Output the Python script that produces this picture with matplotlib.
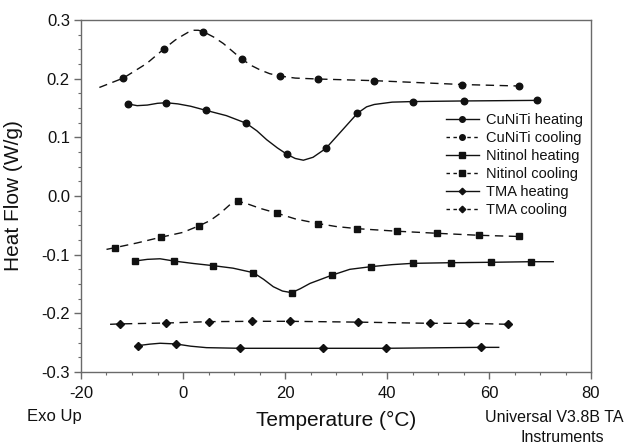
import numpy as np
import matplotlib
matplotlib.use("Agg")
import matplotlib.pyplot as plt
from matplotlib.legend_handler import HandlerLine2D
from matplotlib.lines import Line2D

plt.rcParams['font.family'] = ['Liberation Sans', 'DejaVu Sans']
plt.rcParams['axes.unicode_minus'] = False

# ---------------- data ----------------
# CuNiTi heating
cuniti_heat_trace_T = [-10.8, -9.0, -7.0, -5.0, -3.3, -1.0, 1.5, 4.5, 8.5, 12.4, 14.5, 16.4, 18.5, 20.4,
                       22.0, 23.6, 25.5, 28.0, 31.0, 34.2, 36.0, 37.5, 41.0, 45.1, 55.0, 69.5]
cuniti_heat_trace_H = [0.157, 0.154, 0.155, 0.158, 0.159, 0.157, 0.153, 0.146, 0.137, 0.124, 0.111,
                       0.096, 0.082, 0.071, 0.064, 0.061, 0.066, 0.081, 0.110, 0.141, 0.152, 0.156,
                       0.160, 0.161, 0.162, 0.163]
cuniti_heat_T = [-10.8, -3.3, 4.5, 12.4, 20.4, 28.0, 34.2, 45.1, 55.0, 69.5]
cuniti_heat_H = [0.157, 0.159, 0.146, 0.124, 0.071, 0.081, 0.141, 0.161, 0.162, 0.163]

# CuNiTi cooling
cuniti_cool_trace_T = [-16.4, -11.7, -7.1, -3.7, -1.5, 0.0, 1.0, 2.0, 3.0, 4.0, 6.0, 7.9, 11.5, 13.5,
                       15.1, 17.0, 19.0, 22.0, 26.5, 37.5, 54.8, 65.8]
cuniti_cool_trace_H = [0.185, 0.201, 0.226, 0.251, 0.266, 0.274, 0.279, 0.2825, 0.2825, 0.280, 0.271,
                       0.260, 0.2335, 0.222, 0.215, 0.2085, 0.2045, 0.201, 0.1994, 0.1966, 0.190, 0.1875]
cuniti_cool_T = [-11.7, -3.7, 4.0, 11.5, 19.0, 26.5, 37.5, 54.8, 65.8]
cuniti_cool_H = [0.201, 0.251, 0.280, 0.2335, 0.2045, 0.1994, 0.1966, 0.190, 0.1875]

# Nitinol heating
nitinol_heat_trace_T = [-9.4, -7.0, -4.5, -1.8, 2.0, 5.9, 9.8, 13.8, 15.8, 17.7, 19.5, 21.3, 23.0,
                        24.9, 29.2, 32.7, 36.9, 41.0, 45.0, 52.5, 60.3, 68.2, 72.6]
nitinol_heat_trace_H = [-0.1108, -0.1080, -0.107, -0.1108, -0.115, -0.1187, -0.123, -0.1307, -0.142,
                        -0.1546, -0.162, -0.1648, -0.158, -0.149, -0.135, -0.125, -0.1204, -0.117,
                        -0.1148, -0.1137, -0.113, -0.112, -0.112]
nitinol_heat_T = [-9.4, -1.8, 5.9, 13.8, 21.3, 29.2, 36.9, 45.0, 52.5, 60.3, 68.2]
nitinol_heat_H = [-0.1108, -0.1108, -0.1187, -0.1307, -0.1648, -0.135, -0.1204, -0.1148, -0.1137,
                  -0.113, -0.112]

# Nitinol cooling
nitinol_cool_trace_T = [-15.0, -13.3, -9.0, -4.4, 0.0, 3.2, 5.3, 7.3, 9.3, 10.8, 12.5, 15.1, 18.5,
                        22.0, 26.5, 30.0, 34.2, 41.9, 49.9, 58.1, 65.9]
nitinol_cool_trace_H = [-0.091, -0.088, -0.080, -0.0704, -0.062, -0.0506, -0.042, -0.0295, -0.014,
                        -0.009, -0.013, -0.021, -0.0295, -0.039, -0.047, -0.052, -0.0557, -0.060,
                        -0.0636, -0.067, -0.069]
nitinol_cool_T = [-13.3, -4.4, 3.2, 10.8, 18.5, 26.5, 34.2, 41.9, 49.9, 58.1, 65.9]
nitinol_cool_H = [-0.088, -0.0704, -0.0506, -0.009, -0.0295, -0.047, -0.0557, -0.060, -0.0636,
                  -0.067, -0.069]

# TMA heating
tma_heat_trace_T = [-8.8, -6.5, -4.5, -1.4, 1.5, 4.6, 11.2, 27.4, 39.8, 58.4, 61.9]
tma_heat_trace_H = [-0.255, -0.2525, -0.251, -0.2522, -0.256, -0.2585, -0.2596, -0.2596, -0.2596,
                    -0.258, -0.258]
tma_heat_T = [-8.8, -1.4, 11.2, 27.4, 39.8, 58.4]
tma_heat_H = [-0.255, -0.2522, -0.2596, -0.2596, -0.2596, -0.258]

# TMA cooling
tma_cool_trace_T = [-14.3, -12.4, -3.3, 5.0, 13.5, 21.0, 34.4, 48.4, 56.1, 63.8]
tma_cool_trace_H = [-0.2187, -0.218, -0.2165, -0.2142, -0.2136, -0.2136, -0.215, -0.217, -0.217, -0.2187]
tma_cool_T = [-12.4, -3.3, 5.0, 13.5, 21.0, 34.4, 48.4, 56.1, 63.8]
tma_cool_H = [-0.218, -0.2165, -0.2142, -0.2136, -0.2136, -0.215, -0.217, -0.217, -0.2187]

labels = ["CuNiTi heating", "CuNiTi cooling", "Nitinol heating",
          "Nitinol cooling", "TMA heating", "TMA cooling"]

x_ticks = [-20, 0, 20, 40, 60, 80]
y_ticks = [-0.3, -0.2, -0.1, 0.0, 0.1, 0.2, 0.3]
y_ticklabels = ['-0.3', '-0.2', '-0.1', '0.0', '0.1', '0.2', '0.3']

# ---------------- plotting ----------------
fig = plt.figure(figsize=(6.27, 4.43), dpi=100)
ax = fig.add_axes([81/627, 1-372/443, 510/627, 352/443])

dash = (0, (6, 4))
series = [
    (cuniti_heat_trace_T, cuniti_heat_trace_H, cuniti_heat_T, cuniti_heat_H, 'o', '-', 4.7),
    (cuniti_cool_trace_T, cuniti_cool_trace_H, cuniti_cool_T, cuniti_cool_H, 'o', dash, 4.7),
    (nitinol_heat_trace_T, nitinol_heat_trace_H, nitinol_heat_T, nitinol_heat_H, 's', '-', 4.4),
    (nitinol_cool_trace_T, nitinol_cool_trace_H, nitinol_cool_T, nitinol_cool_H, 's', dash, 4.4),
    (tma_heat_trace_T, tma_heat_trace_H, tma_heat_T, tma_heat_H, 'D', '-', 4.0),
    (tma_cool_trace_T, tma_cool_trace_H, tma_cool_T, tma_cool_H, 'D', dash, 4.0),
]
col = '#111111'
handles = []
for (tT, tH, mT, mH, mk, ls, ms), lab in zip(series, labels):
    ax.plot(tT, tH, color=col, lw=1.0, ls=ls)
    ax.plot(mT, mH, ls='none', marker=mk, ms=ms, color=col, mec=col)
    handles.append(Line2D([], [], color=col, lw=1.0,
                          ls=('-' if ls == '-' else (0, (2.5, 2.5))),
                          marker=mk, ms=ms - 0.7, label=lab))


class LeftMarker(HandlerLine2D):
    def get_xdata(self, legend, xdescent, ydescent, width, height, fontsize):
        xdata = np.array([-xdescent, -xdescent + width])
        return xdata, np.array([-xdescent])


leg = ax.legend(handles=handles, loc='upper left', bbox_to_anchor=(0.715, 0.735),
                frameon=False, fontsize=10.5, handlelength=2.3, handletextpad=0.45,
                labelspacing=0.27, borderaxespad=0.0, borderpad=0.0,
                handler_map={h: LeftMarker(numpoints=1) for h in handles})
for t in leg.get_texts():
    t.set_color('#111111')

ax.set_xlim(-20, 80)
ax.set_ylim(-0.3, 0.3)
ax.set_xticks(x_ticks)
ax.set_yticks(y_ticks)
ax.set_yticklabels(y_ticklabels)
ax.set_xticks(np.arange(-20, 81, 5), minor=True)
ax.set_yticks(np.arange(-0.3, 0.3001, 0.025), minor=True)

spine_col = '#6a6a6a'
for s in ax.spines.values():
    s.set_color(spine_col)
    s.set_linewidth(1.0)
ax.tick_params(which='major', direction='out', length=5, width=1.0, color=spine_col,
               labelsize=12, labelcolor='#111111')
ax.tick_params(axis='x', which='major', pad=5)
ax.tick_params(axis='y', which='major', pad=3)
ax.tick_params(which='minor', direction='out', length=2.5, width=0.8, color=spine_col)
ax.tick_params(top=False, right=False, which='both')

ax.set_ylabel('Heat Flow (W/g)', fontsize=15, color='#111111')
ax.yaxis.set_label_coords(-0.114, 0.5)
ax.set_xlabel('Temperature (°C)', fontsize=15, color='#111111', va='center')
ax.xaxis.set_label_coords(0.5, -0.137)

fig.text(27/627, 1-417/443, 'Exo Up', fontsize=12, va='center', ha='left', color='#111111')
fig.text(485/627, 1-417/443, 'Universal V3.8B TA', fontsize=11.5, va='center', ha='left', color='#111111')
fig.text(562/627, 1-437/443, 'Instruments', fontsize=11.5, va='center', ha='center', color='#111111')

fig.savefig('out.png', dpi=100)
